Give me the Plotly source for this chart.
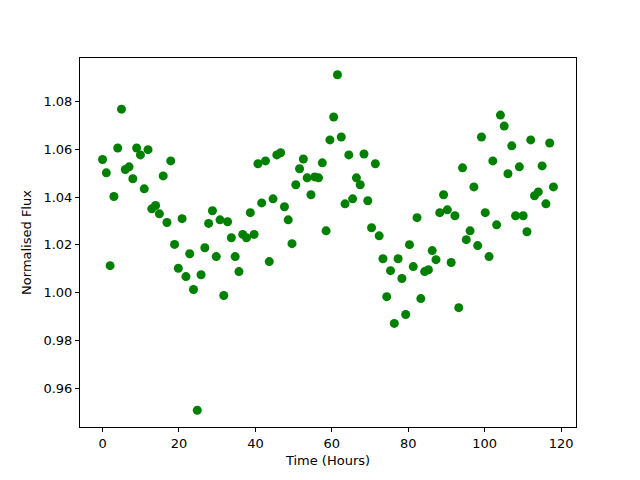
import plotly.graph_objects as go

time_hours = [0.00, 0.99, 1.98, 2.97, 3.97, 4.96, 5.95, 6.94, 7.93, 8.92,
              9.92, 10.91, 11.90, 12.89, 13.88, 14.87, 15.87, 16.86, 17.85, 18.84,
              19.83, 20.82, 21.82, 22.81, 23.80, 24.79, 25.78, 26.77, 27.76, 28.76,
              29.75, 30.74, 31.73, 32.72, 33.71, 34.71, 35.70, 36.69, 37.68, 38.67,
              39.66, 40.66, 41.65, 42.64, 43.63, 44.62, 45.61, 46.61, 47.60, 48.59,
              49.58, 50.57, 51.56, 52.55, 53.55, 54.54, 55.53, 56.52, 57.51, 58.50,
              59.50, 60.49, 61.48, 62.47, 63.46, 64.45, 65.45, 66.44, 67.43, 68.42,
              69.41, 70.40, 71.39, 72.39, 73.38, 74.37, 75.36, 76.35, 77.34, 78.34,
              79.33, 80.32, 81.31, 82.30, 83.29, 84.29, 85.28, 86.27, 87.26, 88.25,
              89.24, 90.24, 91.23, 92.22, 93.21, 94.20, 95.19, 96.18, 97.18, 98.17,
              99.16, 100.15, 101.14, 102.13, 103.13, 104.12, 105.11, 106.10, 107.09, 108.08,
              109.08, 110.07, 111.06, 112.05, 113.04, 114.03, 115.03, 116.02, 117.01, 118.00]

normalised_flux = [1.0558, 1.0502, 1.0113, 1.0403, 1.0606, 1.0769, 1.0516, 1.0527, 1.0477, 1.0606,
                   1.0577, 1.0435, 1.0599, 1.0351, 1.0365, 1.0330, 1.0489, 1.0294, 1.0552, 1.0202,
                   1.0102, 1.0310, 1.0067, 1.0163, 1.0013, 0.9507, 1.0075, 1.0188, 1.0290, 1.0343,
                   1.0151, 1.0305, 0.9988, 1.0297, 1.0230, 1.0151, 1.0088, 1.0244, 1.0230, 1.0335,
                   1.0244, 1.0540, 1.0376, 1.0552, 1.0130, 1.0393, 1.0577, 1.0586, 1.0360, 1.0305,
                   1.0205, 1.0452, 1.0519, 1.0560, 1.0481, 1.0410, 1.0485, 1.0481, 1.0544, 1.0259,
                   1.0640, 1.0736, 1.0913, 1.0652, 1.0372, 1.0577, 1.0393, 1.0481, 1.0452, 1.0581,
                   1.0385, 1.0272, 1.0540, 1.0238, 1.0142, 0.9983, 1.0092, 0.9871, 1.0142, 1.0059,
                   0.9908, 1.0201, 1.0109, 1.0314, 0.9975, 1.0088, 1.0096, 1.0176, 1.0138, 1.0335,
                   1.0410, 1.0347, 1.0126, 1.0322, 0.9937, 1.0523, 1.0222, 1.0259, 1.0443, 1.0197,
                   1.0652, 1.0335, 1.0151, 1.0552, 1.0284, 1.0744, 1.0698, 1.0498, 1.0615, 1.0322,
                   1.0527, 1.0322, 1.0255, 1.0640, 1.0406, 1.0422, 1.0531, 1.0372, 1.0627, 1.0443]

x_ticks = [0, 20, 40, 60, 80, 100, 120]
y_ticks = [0.96, 0.98, 1.00, 1.02, 1.04, 1.06, 1.08]


def padded(vals, frac=0.05):
    lo, hi = min(vals), max(vals)
    span = hi - lo
    return [lo - frac * span, hi + frac * span]


fig = go.Figure()
fig.add_trace(go.Scatter(
    x=time_hours, y=normalised_flux, mode="markers",
    marker=dict(color="#008000", size=9, line=dict(width=0)),
    showlegend=False,
))

axis_common = dict(
    showline=True, linecolor="black", linewidth=1, mirror=True,
    ticks="outside", ticklen=4, tickwidth=1, tickcolor="black",
    showgrid=False, zeroline=False, automargin=False,
    tickfont=dict(family="DejaVu Sans", size=13, color="black"),
)

fig.update_layout(
    width=640, height=480,
    margin=dict(l=72, r=72, t=50, b=61),
    paper_bgcolor="white", plot_bgcolor="white",
    font=dict(family="DejaVu Sans", size=13, color="black"),
    xaxis=dict(range=padded(time_hours), tickvals=x_ticks,
               ticktext=[str(v) for v in x_ticks],
               title=dict(text="Time (Hours)", standoff=6,
                          font=dict(family="DejaVu Sans", size=13)),
               **axis_common),
    yaxis=dict(range=padded(normalised_flux), tickvals=y_ticks,
               ticktext=[f"{v:.2f}" for v in y_ticks],
               title=dict(text="Normalised Flux", standoff=8,
                          font=dict(family="DejaVu Sans", size=13)),
               **axis_common),
)

fig.write_html("out.html")
